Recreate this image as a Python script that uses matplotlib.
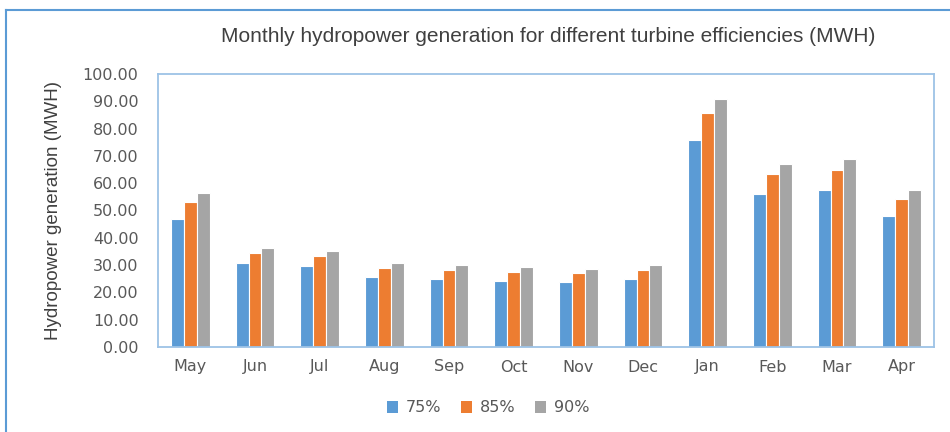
import matplotlib
matplotlib.use("Agg")
import matplotlib.pyplot as plt
import numpy as np
from matplotlib.patches import Patch
from matplotlib.lines import Line2D

months = ["May", "Jun", "Jul", "Aug", "Sep", "Oct", "Nov", "Dec", "Jan", "Feb", "Mar", "Apr"]
eff_75 = [46.8, 30.6, 29.5, 25.6, 24.9, 24.3, 23.9, 24.9, 75.8, 56.0, 57.5, 48.0]
eff_85 = [53.1, 34.6, 33.4, 29.1, 28.3, 27.5, 27.1, 28.2, 85.8, 63.4, 65.0, 54.3]
eff_90 = [56.3, 36.4, 35.3, 30.7, 30.0, 29.2, 28.7, 29.9, 90.8, 67.1, 68.8, 57.5]
series_labels = ["75%", "85%", "90%"]
colors = ["#5B9BD5", "#ED7D31", "#A5A5A5"]

fig = plt.figure(figsize=(9.5, 4.32), dpi=100)
ax = fig.add_axes([158/950, 1-347/432, (934-158)/950, (347-74)/432])

x = np.arange(len(months))
w = 0.2
for i, (vals, c, lab) in enumerate(zip([eff_75, eff_85, eff_90], colors, series_labels)):
    ax.bar(x + (i-1)*w, vals, width=w, color=c, edgecolor="white", linewidth=0.8, label=lab, zorder=2)

ax.set_xlim(-0.5, len(months)-0.5)
ax.set_ylim(0, 100)
ax.set_yticks(np.arange(0, 101, 10))
ax.set_yticklabels([f"{v:.2f}" for v in np.arange(0, 101, 10)])
ax.set_xticks(x)
ax.set_xticklabels(months)
ax.tick_params(axis="both", length=0, labelsize=11.5, colors="#595959", labelcolor="#595959")
ax.tick_params(axis="y", pad=14)
ax.tick_params(axis="x", pad=9)
for s in ax.spines.values():
    s.set_color("#9DC3E6")
    s.set_linewidth(1.3)

ax.set_ylabel("Hydropower generation (MWH)", fontsize=13.5, color="#404040",
              family="Liberation Sans")
ax.yaxis.set_label_coords(-0.124, 0.5)

fig.text(548/950, 1-37/432, "Monthly hydropower generation for different turbine efficiencies (MWH)",
         ha="center", va="center", fontsize=15, color="#404040", family="Liberation Sans")

handles = [Patch(facecolor=c, edgecolor="none") for c in colors]
fig.legend(handles, series_labels, loc="center", bbox_to_anchor=(488/950, 1-408/432), ncol=3,
           frameon=False, fontsize=11.5, labelcolor="#595959", handlelength=0.7, handleheight=0.7,
           handletextpad=0.5, columnspacing=1.2)

# outer chart border (top and left visible)
fig.add_artist(Line2D([6/950, 1.0], [1-10/432, 1-10/432], color="#5B9BD5", linewidth=1.5,
                      transform=fig.transFigure))
fig.add_artist(Line2D([6/950, 6/950], [0, 1-10/432], color="#5B9BD5", linewidth=1.5,
                      transform=fig.transFigure))

fig.savefig("out.png", dpi=100)
